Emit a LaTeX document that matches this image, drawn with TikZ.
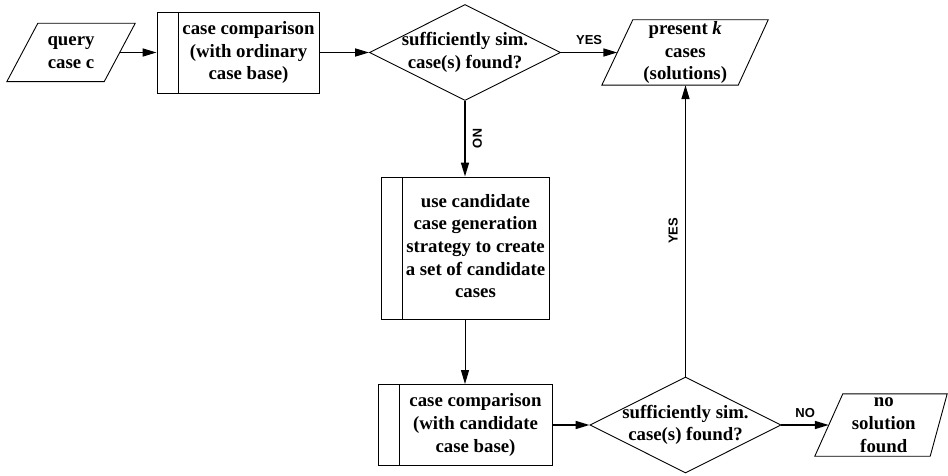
\documentclass[tikz,border=0pt]{standalone}
\usepackage{fontspec}
\setmainfont{Liberation Serif}
\setsansfont{Liberation Sans}
\usepackage{tikz}
\usetikzlibrary{shapes.geometric}
\usetikzlibrary{arrows.meta}

\newcommand{\bartext}[1]{\hspace{21pt}\begin{tabular}{@{}c@{}}#1\end{tabular}}

\begin{document}
\begin{tikzpicture}[x=1pt, y=-1pt, >={Triangle[length=14pt,width=8pt]},
    every node/.style={font=\bfseries\fontsize{18.8}{22.7}\selectfont},
    io/.style n args={2}{rectangle, inner sep=0pt, align=center,
        append after command={\pgfextra{\draw[line width=0.9pt]
            ([xshift=#1]\tikzlastnode.north west) -- ([xshift=#2]\tikzlastnode.north east)
            -- ([xshift=-#2]\tikzlastnode.south east) -- ([xshift=-#1]\tikzlastnode.south west) -- cycle;}}},
    procbox/.style={draw, rectangle, inner sep=0pt, line width=0.9pt,
        path picture={\draw[line width=0.9pt] ([xshift=21pt]path picture bounding box.north west) -- ([xshift=21pt]path picture bounding box.south west);}},
    decision/.style={draw, diamond, aspect=2, minimum width=191pt, minimum height=96pt, inner sep=-4pt, align=center, line width=0.9pt},
    lbl/.style={font=\sffamily\bfseries\fontsize{13}{15}\selectfont, inner sep=0pt, above=7pt},
    flow/.style={->, line width=1.6pt}]

                \useasboundingbox (0,0) rectangle (948,476);

                % Nodes
                \node[io={15.5pt}{15.5pt}, minimum width=97pt, minimum height=58pt] at (71,52.5) (query) {query\\case c};
                \node[procbox, minimum width=162pt, minimum height=81pt] at (238,52.5) (cmp1) {\bartext{case comparison\\(with ordinary\\case base)}};
                \node[decision] at (465,52.5) (dia1) {sufficiently sim.\\case(s) found?};
                \node[io={15.5pt}{15pt}, minimum width=135.5pt, minimum height=65pt] at (685.25,52.5) (present) {present \textit{k}\\cases\\(solutions)};
                \node[procbox, minimum width=168pt, minimum height=142pt] at (465,248) (gen) {\bartext{use candidate\\case generation\\strategy to create\\a set of candidate\\cases}};
                \node[procbox, minimum width=174pt, minimum height=81pt] at (465,425) (cmp2) {\bartext{case comparison\\(with candidate\\case base)}};
                \node[decision] at (685.5,425) (dia2) {sufficiently sim.\\case(s) found?};
                \node[io={14pt}{8.5pt}, minimum width=109.5pt, minimum height=62pt] at (883.75,425) (nosol) {no\\solution\\found};

                % Arrows
                \draw[flow] (query) -- (cmp1);
                \draw[flow] (cmp1) -- (dia1);
                \draw[flow] (dia1.east) -- node[lbl] {YES} (present.west);
                \draw[flow] (dia1.south) -- node[lbl, sloped] {NO} (gen.north);
                \draw[flow, line width=1pt] (gen.south) -- (cmp2.north);
                \draw[flow] (cmp2) -- (dia2);
                \draw[flow] (dia2.east) -- node[lbl] {NO} (nosol.west);
                \draw[flow] (dia2.north) -- node[lbl, sloped] {YES} (dia2.north |- present.south);

\end{tikzpicture}
\end{document}
